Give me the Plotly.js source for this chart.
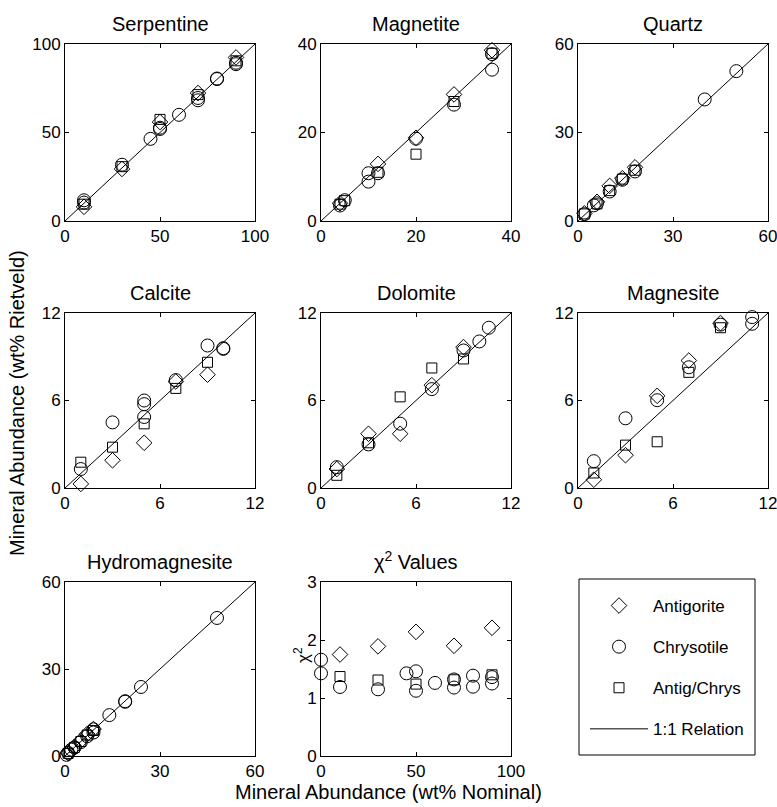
<!DOCTYPE html>
<html><head><meta charset="utf-8">
<script src="https://cdn.plot.ly/plotly-3.0.1.min.js"></script>
<style>html,body{margin:0;padding:0;background:#fff}</style>
</head><body><div id="chart" style="width:777px;height:807px"></div>
<script>
const panelTitles = ['Serpentine','Magnetite','Quartz','Calcite','Dolomite','Magnesite','Hydromagnesite','χ<sup>2</sup> Values'];
const panelMax = [100,40,60,12,12,12,60,100];
const panelYMax = [100,40,60,12,12,12,60,3];
const panelXTicks = [[0,50,100],[0,20,40],[0,30,60],[0,6,12],[0,6,12],[0,6,12],[0,30,60],[0,50,100]];
const panelYTicks = [[0,50,100],[0,20,40],[0,30,60],[0,6,12],[0,6,12],[0,6,12],[0,30,60],[0,1,2,3]];

// Serpentine
const serpAntX = [10,30,50,70,90];
const serpAntY = [8.0,29.4,55.9,72.3,92.4];
const serpChrX = [10,10,30,45,50,50,60,70,70,80,80,90,90];
const serpChrY = [11.7,10.4,31.8,46.4,52.7,52.0,60.0,68.2,69.5,80.5,80.2,89.4,88.6];
const serpMixX = [10,30,50,70,90];
const serpMixY = [9.5,30.7,57.4,71.4,90.5];
// Magnetite
const magnAntX = [4,12,20,28,36];
const magnAntY = [4.0,12.9,18.8,28.6,38.6];
const magnChrX = [4,5,10,10,12,20,28,36,36];
const magnChrY = [3.5,4.7,10.8,8.9,10.8,18.6,26.3,37.7,34.2];
const magnMixX = [4,5,12,20,28,36];
const magnMixY = [3.8,4.6,11.0,15.1,27.0,37.9];
// Quartz
const qtzAntX = [2,6,10,14,18];
const qtzAntY = [2.6,6.5,11.9,14.5,18.2];
const qtzChrX = [2,5,6,10,14,18,40,50];
const qtzChrY = [2.3,5.3,6.0,10.0,14.0,16.8,41.2,50.8];
const qtzMixX = [2,6,10,14,18];
const qtzMixY = [2.4,5.8,10.3,14.2,17.2];
// Calcite
const calAntX = [1,3,5,7,9];
const calAntY = [0.28,1.9,3.1,7.3,7.77];
const calChrX = [1,3,5,5,5,7,9,10,10];
const calChrY = [1.3,4.5,6.0,5.75,4.87,7.4,9.77,9.59,9.54];
const calMixX = [1,3,5,7,9];
const calMixY = [1.77,2.8,4.4,6.83,8.62];
// Dolomite
const dolAntX = [1,3,5,7,9];
const dolAntY = [1.3,3.72,3.72,7.05,9.66];
const dolChrX = [1,3,5,7,9,10,10.6];
const dolChrY = [1.43,2.99,4.41,6.78,9.43,10.05,10.99];
const dolMixX = [1,3,5,7,9];
const dolMixY = [0.87,3.1,6.25,8.23,8.85];
// Magnesite
const mgsAntX = [1,3,5,7,9];
const mgsAntY = [0.57,2.25,6.32,8.74,11.31];
const mgsChrX = [1,3,5,7,9,11,11];
const mgsChrY = [1.84,4.78,6.02,8.28,11.2,11.72,11.26];
const mgsMixX = [1,3,5,7,9];
const mgsMixY = [1.03,2.94,3.17,7.93,10.99];
// Hydromagnesite
const hmgAntX = [1,3,5,7,9];
const hmgAntY = [1.0,3.2,5.3,7.6,9.3];
const hmgChrX = [0.5,1,2,3,5,7,9,9,14,19,19,24,48];
const hmgChrY = [0.4,1.1,2.2,2.9,4.8,6.8,8.1,9.2,14.1,18.7,18.9,23.8,47.6];
const hmgMixX = [1,3,5,7,9];
const hmgMixY = [0.9,3.0,5.0,7.2,8.8];
// Chi-squared values
const chiAntX = [10,30,50,70,90];
const chiAntY = [1.75,1.89,2.14,1.90,2.21];
const chiChrX = [0,0,10,30,45,50,50,60,70,70,80,80,90,90];
const chiChrY = [1.66,1.425,1.19,1.15,1.425,1.46,1.125,1.26,1.32,1.18,1.385,1.195,1.36,1.25];
const chiMixX = [10,30,50,70,90];
const chiMixY = [1.37,1.31,1.24,1.315,1.40];

const seriesNames = ['Antigorite','Chrysotile','Antig/Chrys'];
const panelData = [
  [[serpAntX,serpAntY],[serpChrX,serpChrY],[serpMixX,serpMixY]],
  [[magnAntX,magnAntY],[magnChrX,magnChrY],[magnMixX,magnMixY]],
  [[qtzAntX,qtzAntY],[qtzChrX,qtzChrY],[qtzMixX,qtzMixY]],
  [[calAntX,calAntY],[calChrX,calChrY],[calMixX,calMixY]],
  [[dolAntX,dolAntY],[dolChrX,dolChrY],[dolMixX,dolMixY]],
  [[mgsAntX,mgsAntY],[mgsChrX,mgsChrY],[mgsMixX,mgsMixY]],
  [[hmgAntX,hmgAntY],[hmgChrX,hmgChrY],[hmgMixX,hmgMixY]],
  [[chiAntX,chiAntY],[chiChrX,chiChrY],[chiMixX,chiMixY]]
];

const W = 777, H = 807;
const colPx = [[65,255],[321,511],[578,768]];
const rowPx = [[44,221],[313,488],[582,756]];
const FONT = 'Liberation Sans, Arial, sans-serif';
const symbols = ['diamond-open','circle-open','square-open'];
const sizes = [12,13,10];

const traces = [];
const layout = {
  width: W, height: H,
  margin: {l:0,r:0,t:0,b:0},
  paper_bgcolor: '#fff', plot_bgcolor: '#fff',
  font: {family: FONT, color: '#000'},
  showlegend: true,
  legend: {x: 585/W, xanchor:'left', y: 1-588/H, yanchor:'top', bgcolor:'rgba(0,0,0,0)',
           borderwidth:0, font:{size:17, family:FONT}, itemwidth:58, tracegroupgap:16},
  annotations: [], shapes: []
};

for (let p = 0; p < 8; p++) {
  const r = Math.floor(p/3), c = p%3;
  const ax = p === 0 ? '' : String(p+1);
  const xa = 'xaxis'+ax, ya = 'yaxis'+ax;
  const axisCommon = {showline:true, mirror:'ticks', linecolor:'#000', linewidth:1, ticks:'inside',
    ticklen:4, tickcolor:'#000', showgrid:false, zeroline:false, tickfont:{size:17, family:FONT},
    fixedrange:true, ticklabeloverflow:'allow'};
  layout[xa] = Object.assign({}, axisCommon, {domain:[colPx[c][0]/W, colPx[c][1]/W], range:[0,panelMax[p]],
    tickvals:panelXTicks[p], anchor:'y'+ax});
  layout[ya] = Object.assign({}, axisCommon, {domain:[1-rowPx[r][1]/H, 1-rowPx[r][0]/H], range:[0,panelYMax[p]],
    tickvals:panelYTicks[p], anchor:'x'+ax});
  if (p < 7) {
    traces.push({x:[0,panelMax[p]], y:[0,panelYMax[p]], mode:'lines', line:{color:'#000', width:1},
      xaxis:'x'+ax, yaxis:'y'+ax, name:'1:1 Relation', legendgroup:'line', showlegend: p===0,
      legendrank: 4, hoverinfo:'skip'});
  }
  for (let s = 0; s < 3; s++) {
    traces.push({x:panelData[p][s][0], y:panelData[p][s][1], mode:'markers', cliponaxis:false,
      marker:{symbol:symbols[s], size:sizes[s], color:'#000', line:{width:1, color:'#000'}},
      xaxis:'x'+ax, yaxis:'y'+ax, name:seriesNames[s], legendgroup:'g'+s, showlegend:p===0,
      legendrank: s+1});
  }
  layout.annotations.push({text:panelTitles[p], xref:'paper', yref:'paper',
    x:(colPx[c][0]+colPx[c][1])/2/W, y:1-(rowPx[r][0]-7)/H, xanchor:'center', yanchor:'bottom',
    showarrow:false, font:{size:20, family:FONT}});
}

layout.annotations.push({text:'χ<sup>2</sup>', xref:'paper', yref:'paper',
  x:302/W, y:1-655/H, xanchor:'center', yanchor:'middle', textangle:-90, showarrow:false,
  font:{size:17, family:FONT}});
layout.annotations.push({text:'Mineral Abundance (wt% Nominal)', xref:'paper', yref:'paper',
  x:388/W, y:1-792/H, xanchor:'center', yanchor:'middle', showarrow:false, font:{size:20, family:FONT}});
layout.annotations.push({text:'Mineral Abundance (wt% Rietveld)', xref:'paper', yref:'paper',
  x:17/W, y:1-403/H, xanchor:'center', yanchor:'middle', textangle:-90, showarrow:false, font:{size:20, family:FONT}});

layout.shapes.push({type:'rect', xref:'paper', yref:'paper', x0:579/W, x1:755/W, y0:1-755/H, y1:1-579/H,
  line:{color:'#000', width:1}, fillcolor:'rgba(0,0,0,0)'});

Plotly.newPlot('chart', traces, layout, {displayModeBar:false, staticPlot:true});
</script></body></html>
